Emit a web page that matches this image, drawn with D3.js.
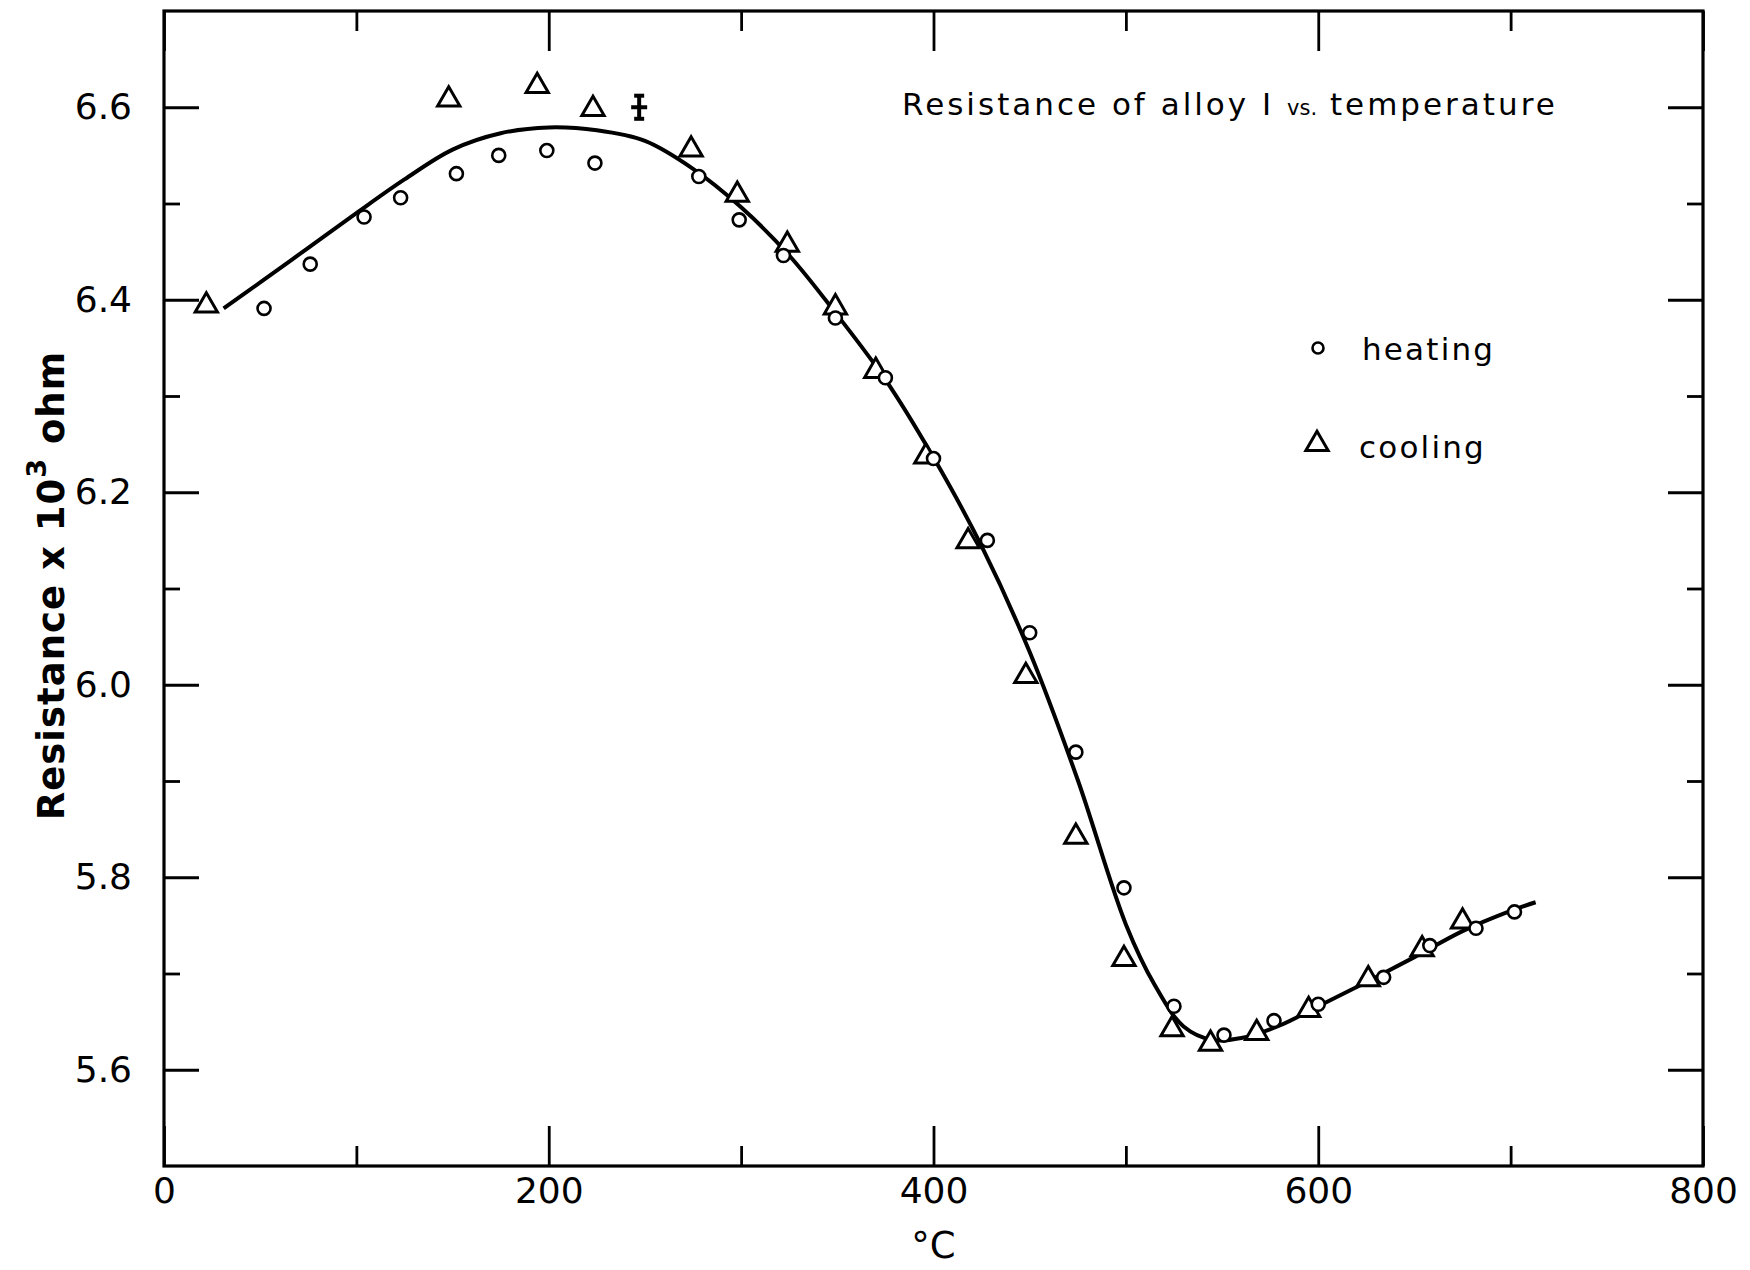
<!DOCTYPE html>
<html>
<head>
<meta charset="utf-8">
<title>Resistance of alloy I vs. temperature</title>
<script src="https://d3js.org/d3.v7.min.js"></script>
<style>
    body { margin: 0; background: #fff; }
    .axis path { display: none; }
    .axis line { stroke: #000; stroke-width: 2.8px; }
    .axis text {
        font-family: "DejaVu Sans", sans-serif;
        font-size: 36px;
        fill: #000;
    }
    .frame { fill: none; stroke: #000; stroke-width: 3.2px; }
    .curve { fill: none; stroke: #000; stroke-width: 4px; }
    .heat { fill: #fff; stroke: #000; stroke-width: 2.6px; }
    .cool { fill: #fff; stroke: #000; stroke-width: 3px; }
    .lbl { font-family: "DejaVu Sans", sans-serif; fill: #000; }
</style>
</head>
<body>
<svg id="chart"></svg>
<script>
// heating points (circles)
var heatingT = [52, 76, 104, 123, 152, 174, 199, 224, 278, 299, 322, 349, 375, 400, 428, 450, 474, 499, 525, 551, 577, 600, 634, 658, 682, 702];
var heatingR = [6.391, 6.437, 6.486, 6.506, 6.531, 6.550, 6.555, 6.542, 6.528, 6.483, 6.446, 6.381, 6.319, 6.235, 6.150, 6.054, 5.930, 5.789, 5.666, 5.636, 5.651, 5.668, 5.696, 5.729, 5.747, 5.764];

// cooling points (triangles)
var coolingT = [22, 148, 194, 223, 274, 298, 324, 349, 370, 396, 418, 448, 474, 499, 524, 544, 568, 595, 626, 654, 675];
var coolingR = [6.394, 6.608, 6.622, 6.598, 6.556, 6.509, 6.457, 6.392, 6.326, 6.237, 6.149, 6.009, 5.842, 5.715, 5.642, 5.627, 5.638, 5.662, 5.694, 5.725, 5.754];

// smooth fitted curve
var curveT = [31, 50, 75, 100, 125, 150, 175, 200, 225, 250, 275, 300, 325, 350, 375, 400, 425, 450, 475, 500, 515, 530, 545, 560, 580, 600, 625, 650, 675, 700, 713];
var curveR = [6.391, 6.418, 6.454, 6.490, 6.525, 6.556, 6.573, 6.579, 6.576, 6.565, 6.536, 6.496, 6.446, 6.384, 6.317, 6.236, 6.144, 6.034, 5.901, 5.751, 5.688, 5.645, 5.631, 5.633, 5.646, 5.666, 5.691, 5.717, 5.744, 5.765, 5.774];

// error bar sample
var errT = [247], errR = [6.600], errD = [0.012];

var xMajor = [0, 200, 400, 600, 800];
var xMinor = [100, 300, 500, 700];
var yMajor = [5.6, 5.8, 6.0, 6.2, 6.4, 6.6];
var yMinor = [5.7, 5.9, 6.1, 6.3, 6.5];

var W = 1750, H = 1270;
var margin = {top: 11, right: 47, bottom: 104, left: 164};
var width = W - margin.left - margin.right,
    height = H - margin.top - margin.bottom;

var svg = d3.select("#chart").attr("width", W).attr("height", H)
    .append("g")
    .attr("transform", "translate(" + margin.left + "," + margin.top + ")");

var x = d3.scaleLinear().domain([0, 800]).range([0, width]);
var y = d3.scaleLinear().domain([5.5, 6.7]).range([height, 0]);

// inward ticks on all four sides
svg.append("g").attr("class", "axis")
    .attr("transform", "translate(0," + height + ")")
    .call(d3.axisBottom(x).tickValues(xMajor).tickSizeInner(-40).tickSizeOuter(0).tickPadding(11).tickFormat(d3.format("d")));
svg.append("g").attr("class", "axis")
    .attr("transform", "translate(0," + height + ")")
    .call(d3.axisBottom(x).tickValues(xMinor).tickSizeInner(-20).tickSizeOuter(0).tickFormat(""));
svg.append("g").attr("class", "axis")
    .call(d3.axisTop(x).tickValues(xMajor).tickSizeInner(-40).tickSizeOuter(0).tickFormat(""));
svg.append("g").attr("class", "axis")
    .call(d3.axisTop(x).tickValues(xMinor).tickSizeInner(-20).tickSizeOuter(0).tickFormat(""));

svg.append("g").attr("class", "axis")
    .call(d3.axisLeft(y).tickValues(yMajor).tickSizeInner(-35).tickSizeOuter(0).tickPadding(32).tickFormat(d3.format(".1f")));
svg.append("g").attr("class", "axis")
    .call(d3.axisLeft(y).tickValues(yMinor).tickSizeInner(-16).tickSizeOuter(0).tickFormat(""));
svg.append("g").attr("class", "axis")
    .attr("transform", "translate(" + width + ",0)")
    .call(d3.axisRight(y).tickValues(yMajor).tickSizeInner(-35).tickSizeOuter(0).tickFormat(""));
svg.append("g").attr("class", "axis")
    .attr("transform", "translate(" + width + ",0)")
    .call(d3.axisRight(y).tickValues(yMinor).tickSizeInner(-16).tickSizeOuter(0).tickFormat(""));

svg.append("rect").attr("class", "frame")
    .attr("width", width).attr("height", height);

// curve
var line = d3.line()
    .x(function(d, i) { return x(curveT[i]); })
    .y(function(d, i) { return y(curveR[i]); })
    .curve(d3.curveCatmullRom);
svg.append("path").attr("class", "curve").attr("d", line(curveT));

// markers
var tri = d3.symbol().type(d3.symbolTriangle).size(215);
svg.selectAll(".cool").data(coolingT).enter().append("path")
    .attr("class", "cool")
    .attr("d", tri)
    .attr("transform", function(d, i) { return "translate(" + x(d) + "," + y(coolingR[i]) + ")"; });

svg.selectAll(".heat").data(heatingT).enter().append("circle")
    .attr("class", "heat")
    .attr("cx", function(d) { return x(d); })
    .attr("cy", function(d, i) { return y(heatingR[i]); })
    .attr("r", 6.5);

// error bar
var eb = svg.selectAll(".err").data(errT).enter().append("g")
    .attr("stroke", "#000").attr("stroke-width", 4);
eb.append("line")
    .attr("x1", function(d) { return x(d); }).attr("x2", function(d) { return x(d); })
    .attr("y1", function(d, i) { return y(errR[i] + errD[i]); })
    .attr("y2", function(d, i) { return y(errR[i] - errD[i]); });
eb.append("line")
    .attr("x1", function(d) { return x(d) - 8; }).attr("x2", function(d) { return x(d) + 8; })
    .attr("y1", function(d, i) { return y(errR[i]); })
    .attr("y2", function(d, i) { return y(errR[i]); });
eb.append("line")
    .attr("x1", function(d) { return x(d) - 5; }).attr("x2", function(d) { return x(d) + 5; })
    .attr("y1", function(d, i) { return y(errR[i] + errD[i]); })
    .attr("y2", function(d, i) { return y(errR[i] + errD[i]); });
eb.append("line")
    .attr("x1", function(d) { return x(d) - 5; }).attr("x2", function(d) { return x(d) + 5; })
    .attr("y1", function(d, i) { return y(errR[i] - errD[i]); })
    .attr("y2", function(d, i) { return y(errR[i] - errD[i]); });

// title
var title = svg.append("text").attr("class", "lbl")
    .attr("x", 738).attr("y", 104)
    .style("font-size", "31px").style("letter-spacing", "3px");
title.append("tspan").text("Resistance of alloy I ");
title.append("tspan").style("font-size", "21px").style("letter-spacing", "0px").text("vs.");
title.append("tspan").text(" temperature");

// legend
svg.append("circle").attr("class", "heat")
    .attr("cx", 1154).attr("cy", 337).attr("r", 5.5);
svg.append("text").attr("class", "lbl")
    .attr("x", 1198).attr("y", 349)
    .style("font-size", "31px").style("letter-spacing", "2.2px")
    .text("heating");
svg.append("path").attr("class", "cool").attr("d", tri)
    .attr("transform", "translate(1153,433)");
svg.append("text").attr("class", "lbl")
    .attr("x", 1195).attr("y", 447)
    .style("font-size", "31px").style("letter-spacing", "2.2px")
    .text("cooling");

// axis titles
svg.append("text").attr("class", "lbl")
    .attr("x", x(400)).attr("y", height + 92)
    .attr("text-anchor", "middle")
    .style("font-size", "37px")
    .text("°C");

var yl = svg.append("text").attr("class", "lbl")
    .attr("transform", "translate(" + (-100) + "," + (height / 2 - 3) + ") rotate(-90)")
    .attr("text-anchor", "middle")
    .style("font-size", "37px").style("font-weight", "bold").style("letter-spacing", "1px");
yl.append("tspan").text("Resistance x 10");
yl.append("tspan").attr("dy", -18).style("font-size", "27px").text("3");
yl.append("tspan").attr("dy", 18).text(" ohm");
</script>
</body>
</html>
